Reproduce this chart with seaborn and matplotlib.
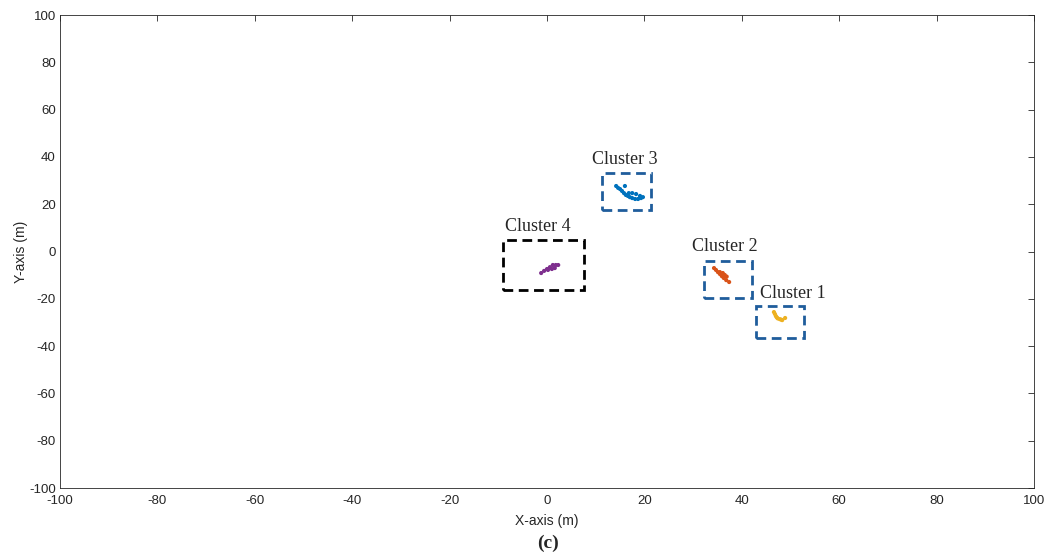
import seaborn as sns
import matplotlib.pyplot as plt
import matplotlib.patches as mpatches
import pandas as pd

sns.set_style("white")
plt.rcParams["axes.unicode_minus"] = False

# detected points per cluster (metres)
c1_x = [46.6, 46.8, 47.0, 47.2, 47.4, 47.8, 48.1, 48.3, 48.9]
c1_y = [-25.6, -26.4, -27.3, -27.9, -28.3, -28.6, -28.8, -29.0, -28.1]
c2_x = [34.3, 34.7, 35.1, 35.5, 35.9, 36.3, 36.8, 37.4, 35.5, 36.1, 36.5, 36.9]
c2_y = [-7.0, -7.8, -8.7, -9.5, -10.4, -11.2, -12.1, -12.9, -8.7, -9.1, -9.9, -10.6]
c3_x = [14.2, 14.6, 15.0, 15.4, 15.8, 16.2, 16.6, 17.0, 17.5, 18.1, 18.7, 19.3, 19.7,
        19.1, 18.3, 17.5, 16.8, 16.0]
c3_y = [27.7, 26.9, 26.4, 25.6, 24.7, 23.9, 23.5, 23.0, 22.6, 22.2, 22.2, 22.6, 23.0,
        23.5, 24.3, 24.7, 24.7, 27.7]
c4_x = [-1.2, -0.6, 0.0, 0.6, 1.2, 1.8, 2.3, 0.2, 1.0, 1.6]
c4_y = [-9.1, -8.2, -7.4, -6.6, -5.7, -5.7, -5.7, -7.8, -7.4, -7.0]

# bounding boxes: x0, y0, x1, y1
box_names = ["Cluster 1", "Cluster 2", "Cluster 3", "Cluster 4"]
box_x0 = [42.9, 32.2, 11.3, -9.0]
box_y0 = [-36.6, -19.7, 17.5, -16.3]
box_x1 = [52.8, 42.1, 21.4, 7.6]
box_y1 = [-23.0, -4.0, 33.0, 4.9]
label_x = [50.5, 36.5, 16.0, -1.8]
label_y = [-17.8, 2.3, 38.7, 10.4]

point_colors = ["#EDB120", "#D95319", "#0072BD", "#7E2F8E"]
box_colors = ["#1f5d9c", "#1f5d9c", "#1f5d9c", "black"]

frames = []
for name, xs, ys in zip(box_names, [c1_x, c2_x, c3_x, c4_x], [c1_y, c2_y, c3_y, c4_y]):
    frames.append(pd.DataFrame({"x": xs, "y": ys, "cluster": name}))
df = pd.concat(frames)

fig = plt.figure(figsize=(10.48, 5.58), dpi=100)
ax = fig.add_axes([0.0573, 0.1254, 0.9293, 0.8477])

sns.scatterplot(data=df, x="x", y="y", hue="cluster", palette=point_colors,
                s=9, linewidth=0, legend=False, ax=ax)

for i in range(len(box_names)):
    rect = mpatches.Rectangle((box_x0[i], box_y0[i]), box_x1[i] - box_x0[i],
                              box_y1[i] - box_y0[i], fill=False,
                              edgecolor=box_colors[i], linewidth=2,
                              linestyle=(0, (3.5, 2)))
    ax.add_patch(rect)
    ax.text(label_x[i], label_y[i], box_names[i], ha="center", va="center",
            fontsize=13, family="Liberation Serif")

ax.set_xlim(-100, 100)
ax.set_ylim(-100, 100)
ax.set_xticks(range(-100, 101, 20))
ax.set_yticks(range(-100, 101, 20))
ax.tick_params(direction="in", top=True, right=True, length=4, width=0.6,
               colors="#262626", labelsize=9.5, pad=3)
ax.tick_params(axis="x", pad=5)
for lab in ax.get_xticklabels() + ax.get_yticklabels():
    lab.set_family("Liberation Sans")
for sp in ax.spines.values():
    sp.set_color("#262626")
    sp.set_linewidth(0.6)

ax.set_xlabel("X-axis (m)", fontsize=10, family="Liberation Sans", color="#262626",
              labelpad=5)
ax.set_ylabel("Y-axis (m)", fontsize=10, family="Liberation Sans", color="#262626",
              labelpad=1)
fig.text(0.523, 0.027, "(c)", ha="center", va="center", fontsize=14,
         fontweight="bold", family="Liberation Serif")

plt.savefig("out.png", dpi=100)
plt.close()
